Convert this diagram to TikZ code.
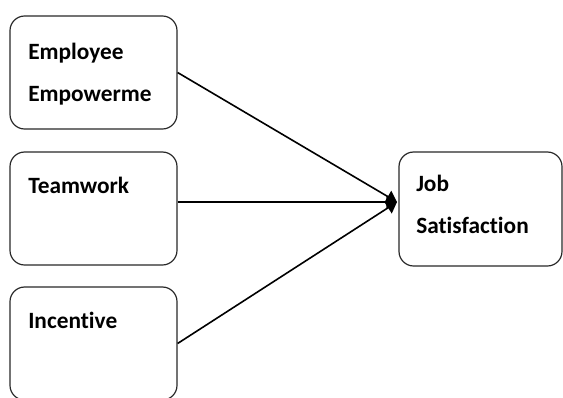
\documentclass[tikz,border=0pt]{standalone}
\usepackage{fontspec}
\setmainfont[Ligatures=NoCommon]{Carlito}
\usetikzlibrary{arrows.meta}

\tikzset{
	box/.style={draw={rgb, 255:red, 40; green, 40; blue, 40}, line width=0.9pt, rounded corners=11pt, inner sep=0pt, minimum width=125.25pt, minimum height=84.75pt},
	link/.style={line width=1.2pt, -{Triangle[length=8pt,width=10pt]}},
	lbl/.style={anchor=north west, inner sep=0pt, align=left, font=\bfseries\fontsize{17.5}{31.5}\selectfont}
}

\begin{document}
\begin{tikzpicture}[x=0.75pt,y=0.75pt,yscale=-1,xscale=1]
	%set diagram left start at 0, and has height of 397
	\useasboundingbox (0,0) rectangle (563,397);
	
	%Shape: Rounded Rect [id:emp] 
	\node [box] (emp) at (93.5,72.5) {};
	%Shape: Rounded Rect [id:team] 
	\node [box] (team) at (93.5,208.5) {};
	%Shape: Rounded Rect [id:inc] 
	\node [box] (inc) at (93.5,343.5) {};
	%Shape: Rounded Rect [id:jobsat] 
	\node [box, minimum width=122.25pt, minimum height=85.5pt] (jobsat) at (480.5,209) {};
	
	%meeting point of the arrows
	\coordinate (hub) at (397,202);
	
	%Straight Lines 
	\draw [link] (emp.east) -- (hub);
	%Straight Lines 
	\draw [link] (team.east |- hub) -- (hub);
	%Straight Lines 
	\draw [link] (inc.east) -- (hub);
	
	% Text Node
	\node [lbl] (empTxt) at (28,43) {Employee\\Empowerme};
	% Text Node
	\node [lbl] (teamTxt) at (28,177) {Teamwork};
	% Text Node
	\node [lbl] (incTxt) at (28,312) {Incentive};
	% Text Node
	\node [lbl] (jobTxt) at (416,175) {Job\\Satisfaction};
	
\end{tikzpicture}
\end{document}
